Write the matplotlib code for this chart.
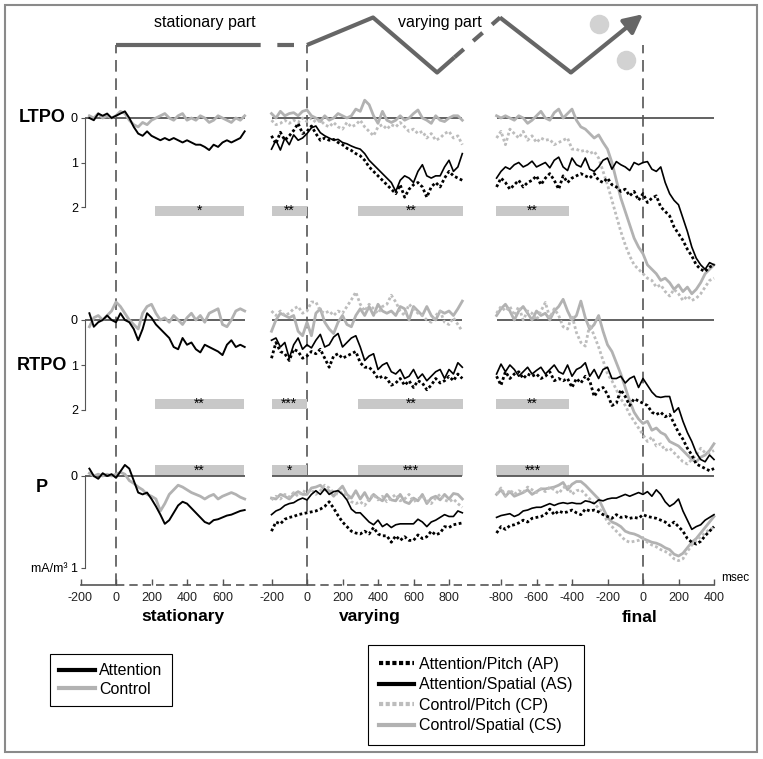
import numpy as np
import matplotlib
matplotlib.use("Agg")
import matplotlib.pyplot as plt
from matplotlib.lines import Line2D
from matplotlib.patches import Rectangle

plt.rcParams["font.family"] = ["Liberation Sans", "DejaVu Sans"]
plt.rcParams["axes.unicode_minus"] = False

# ---- time grids (msec) ----
t_stat = np.arange(-150, 726, 25)
t_vary = np.arange(-200, 876, 25)
t_final = np.arange(-825, 401, 25)

# ---- LTPO ----
ltpo_stat_att = [0.0, 0.05, -0.1, -0.05, -0.1, 0.0, -0.05, -0.1, -0.15, 0.0,
                 0.2, 0.35, 0.4, 0.3, 0.4, 0.45, 0.5, 0.45, 0.5, 0.45,
                 0.5, 0.55, 0.5, 0.55, 0.6, 0.6, 0.65, 0.72, 0.6, 0.65,
                 0.55, 0.5, 0.55, 0.5, 0.45, 0.3]
ltpo_stat_ctl = [-0.05, 0.0, -0.1, 0.0, -0.05, 0.0, -0.05, -0.15, -0.1, 0.05,
                 0.15, 0.2, 0.1, 0.15, 0.05, 0.0, -0.05, -0.1, 0.0, 0.05,
                 -0.05, -0.1, 0.05, 0.0, 0.05, -0.05, 0.0, 0.1, 0.05, -0.05,
                 0.0, 0.05, 0.1, 0.0, 0.05, -0.05]
ltpo_vary_as = [0.7, 0.5, 0.72, 0.45, 0.6, 0.38, 0.5, 0.45, 0.35, 0.22,
                0.18, 0.33, 0.4, 0.45, 0.5, 0.48, 0.55, 0.58, 0.63, 0.67,
                0.7, 0.8, 0.95, 1.05, 1.15, 1.25, 1.35, 1.45, 1.65, 1.4,
                1.3, 1.35, 1.45, 1.2, 1.05, 1.3, 1.35, 1.3, 1.3, 1.1,
                0.95, 1.2, 1.1, 0.8]
ltpo_vary_ap = [0.4, 0.58, 0.32, 0.5, 0.4, 0.28, 0.12, 0.35, 0.3, 0.18,
                0.35, 0.5, 0.45, 0.5, 0.48, 0.55, 0.6, 0.68, 0.73, 0.8,
                0.85, 0.95, 1.1, 1.2, 1.3, 1.4, 1.5, 1.6, 1.7, 1.5,
                1.78, 1.6, 1.5, 1.45, 1.55, 1.78, 1.55, 1.45, 1.55, 1.35,
                1.2, 1.3, 1.35, 1.4]
ltpo_vary_cs = [-0.1, 0.0, -0.15, -0.05, -0.1, -0.12, -0.05, -0.15, -0.18, -0.05,
                0.0, 0.08, -0.05, 0.05, 0.0, -0.1, -0.05, 0.0, -0.05, -0.2,
                -0.15, -0.4, -0.3, -0.05, 0.12, -0.15, 0.05, 0.1, 0.05, -0.05,
                0.05, 0.0, -0.1, -0.18, 0.0, 0.05, 0.12, -0.05, 0.05, 0.08,
                0.0, -0.05, -0.05, 0.05]
ltpo_vary_cp = [0.05, 0.15, 0.12, 0.05, 0.12, 0.05, 0.1, 0.0, 0.08, 0.0,
                0.1, 0.05, 0.15, 0.2, 0.1, 0.2, 0.25, 0.1, 0.2, 0.15,
                0.05, 0.2, 0.3, 0.4, 0.2, 0.15, 0.25, 0.15, 0.2, 0.1,
                0.2, 0.3, 0.25, 0.35, 0.3, 0.45, 0.35, 0.5, 0.45, 0.35,
                0.3, 0.45, 0.4, 0.6]
ltpo_final_as = [1.35, 1.2, 1.1, 1.15, 1.05, 1.0, 1.1, 1.05, 0.97, 1.1,
                 1.05, 1.0, 1.12, 0.95, 0.88, 1.1, 1.18, 0.9, 1.05, 1.1,
                 0.9, 1.15, 1.2, 1.1, 0.95, 0.9, 1.15, 0.98, 1.05, 1.1,
                 1.18, 1.0, 1.05, 1.0, 0.98, 1.15, 1.2, 1.1, 1.45, 1.7,
                 1.85, 1.95, 2.25, 2.55, 2.9, 3.15, 3.3, 3.4, 3.25, 3.3]
ltpo_final_ap = [1.55, 1.35, 1.45, 1.6, 1.5, 1.4, 1.55, 1.45, 1.4, 1.3,
                 1.5, 1.35, 1.25, 1.4, 1.6, 1.3, 1.45, 1.35, 1.3, 1.25,
                 1.3, 1.35, 1.25, 1.4, 1.45, 1.35, 1.5, 1.55, 1.65, 1.6,
                 1.75, 1.65, 1.85, 1.7, 1.9, 1.8, 1.75, 2.0, 2.1, 2.2,
                 2.45, 2.6, 2.75, 2.95, 3.1, 3.3, 3.4, 3.45, 3.35, 3.3]
ltpo_final_cs = [-0.05, 0.0, -0.05, 0.0, 0.05, -0.05, 0.0, 0.12, 0.05, -0.05,
                 -0.15, 0.0, 0.05, -0.12, -0.2, 0.0, -0.1, -0.2, 0.05, 0.2,
                 0.25, 0.35, 0.45, 0.38, 0.55, 0.7, 1.0, 1.4, 1.8, 2.1,
                 2.4, 2.7, 2.9, 3.05, 3.3, 3.4, 3.5, 3.65, 3.6, 3.7,
                 3.85, 3.75, 3.9, 3.8, 3.95, 3.85, 3.7, 3.5, 3.4, 3.3]
ltpo_final_cp = [0.45, 0.3, 0.6, 0.25, 0.35, 0.45, 0.3, 0.5, 0.4, 0.55,
                 0.45, 0.5, 0.48, 0.6, 0.55, 0.5, 0.45, 0.7, 0.7, 0.75,
                 0.72, 0.8, 0.75, 0.9, 1.2, 1.5, 1.85, 2.2, 2.55, 2.85,
                 3.1, 3.3, 3.4, 3.5, 3.6, 3.65, 3.8, 3.75, 3.9, 4.0,
                 3.85, 3.95, 4.1, 4.0, 4.1, 4.05, 3.95, 3.8, 3.65, 3.6]

# ---- RTPO ----
rtpo_stat_att = [-0.15, 0.15, 0.05, 0.0, -0.1, 0.0, 0.05, -0.15, 0.0, 0.05,
                 0.2, 0.45, 0.2, -0.15, -0.05, 0.1, 0.2, 0.3, 0.4, 0.6,
                 0.65, 0.4, 0.55, 0.5, 0.65, 0.72, 0.55, 0.6, 0.65, 0.7,
                 0.78, 0.55, 0.45, 0.6, 0.55, 0.6]
rtpo_stat_ctl = [0.15, -0.05, -0.1, 0.0, -0.1, -0.2, -0.4, -0.3, -0.15, 0.0,
                 0.1, 0.2, -0.15, -0.3, -0.35, -0.15, 0.0, -0.05, 0.05, -0.1,
                 0.0, 0.1, -0.05, -0.15, 0.0, -0.1, 0.05, -0.15, -0.2, -0.25,
                 0.1, 0.15, 0.0, -0.2, -0.25, -0.2]
rtpo_vary_as = [0.45, 0.4, 0.6, 0.5, 0.85, 0.55, 0.4, 0.65, 0.55, 0.62,
                0.45, 0.32, 0.6, 0.55, 0.38, 0.3, 0.6, 0.5, 0.4, 0.35,
                0.6, 0.9, 0.8, 0.75, 1.1, 1.0, 0.95, 1.15, 1.2, 1.1,
                1.3, 1.25, 1.1, 1.3, 1.2, 1.35, 1.25, 1.15, 1.1, 1.3,
                1.1, 1.2, 0.95, 1.05]
rtpo_vary_ap = [0.85, 0.5, 0.7, 0.75, 0.9, 0.65, 0.7, 0.85, 0.8, 0.7,
                0.75, 0.65, 0.85, 1.05, 0.8, 0.75, 0.85, 0.8, 0.75, 0.7,
                0.95, 1.05, 1.05, 1.15, 1.3, 1.25, 1.3, 1.45, 1.4, 1.3,
                1.45, 1.35, 1.5, 1.35, 1.4, 1.55, 1.45, 1.3, 1.4, 1.35,
                1.25, 1.35, 1.2, 1.3]
rtpo_vary_cs = [0.25, 0.0, -0.15, -0.1, -0.05, -0.1, 0.25, 0.35, 0.05, 0.35,
                -0.15, -0.25, 0.05, 0.2, 0.3, 0.05, -0.1, 0.1, 0.15, -0.1,
                -0.25, -0.1, -0.3, -0.1, -0.35, -0.2, -0.15, -0.2, -0.1, -0.3,
                -0.25, 0.0, -0.3, -0.2, -0.1, -0.3, -0.1, 0.0, -0.2, -0.15,
                -0.2, -0.1, -0.25, -0.42]
rtpo_vary_cp = [-0.2, -0.1, -0.2, -0.1, -0.15, -0.25, -0.3, -0.15, -0.2, -0.4,
                -0.4, -0.2, -0.15, -0.2, -0.1, -0.2, -0.15, -0.3, -0.45, -0.62,
                -0.35, -0.2, -0.35, -0.25, -0.15, -0.3, -0.35, -0.55, -0.4, -0.2,
                -0.1, -0.35, -0.25, -0.15, -0.1, 0.0, 0.05, -0.1, -0.2, 0.05,
                0.1, -0.05, 0.1, 0.25]
rtpo_final_as = [1.2, 0.98, 1.15, 1.0, 1.1, 1.25, 1.15, 1.05, 1.2, 1.12,
                 1.05, 1.2, 1.1, 1.0, 1.15, 1.2, 1.0, 1.25, 1.1, 1.05,
                 0.95, 1.25, 1.1, 1.3, 1.1, 1.05, 1.3, 1.3, 1.25, 1.4,
                 1.3, 1.25, 1.5, 1.3, 1.45, 1.6, 1.7, 1.72, 1.7, 1.7,
                 2.05, 1.95, 2.25, 2.5, 2.7, 2.95, 3.1, 3.15, 3.0, 3.1]
rtpo_final_ap = [1.25, 1.45, 1.15, 1.3, 1.2, 1.15, 1.3, 1.2, 1.25, 1.2,
                 1.3, 1.25, 1.15, 1.35, 1.3, 1.35, 1.3, 1.5, 1.3, 1.4,
                 1.25, 1.35, 1.7, 1.55, 1.5, 1.65, 1.9, 1.85, 1.55, 1.7,
                 1.9, 1.75, 1.8, 1.85, 1.9, 2.05, 2.1, 2.05, 2.15, 2.1,
                 2.3, 2.5, 2.65, 2.85, 3.0, 3.2, 3.25, 3.3, 3.35, 3.3]
rtpo_final_cs = [-0.1, -0.25, -0.35, -0.2, 0.0, -0.2, -0.3, -0.15, 0.0, -0.2,
                 -0.1, -0.15, 0.0, -0.2, -0.3, -0.46, -0.2, 0.0, -0.1, -0.42,
                 -0.05, 0.21, 0.1, -0.1, 0.25, 0.55, 0.7, 0.95, 1.2, 1.5,
                 1.8, 2.05, 2.2, 2.3, 2.25, 2.45, 2.4, 2.5, 2.55, 2.7,
                 2.75, 2.8, 2.9, 3.0, 3.1, 3.15, 3.05, 3.0, 2.9, 2.75]
rtpo_final_cp = [-0.15, -0.3, -0.2, -0.3, -0.1, -0.3, 0.0, -0.2, -0.15, 0.0,
                 -0.2, -0.39, -0.05, -0.25, -0.1, 0.15, 0.2, -0.1, 0.28, 0.5,
                 0.58, 0.1, 0.35, 0.6, 0.9, 1.2, 1.35, 1.55, 1.75, 1.9,
                 2.1, 2.25, 2.4, 2.55, 2.7, 2.6, 2.8, 2.75, 2.9, 2.85,
                 2.95, 3.05, 3.15, 3.2, 3.1, 3.0, 2.85, 2.95, 2.95, 2.9]

# ---- P ----
p_stat_att = [-0.08, 0.0, 0.03, -0.03, 0.0, -0.02, 0.02, -0.05, -0.12, -0.08,
              0.05, 0.18, 0.2, 0.18, 0.25, 0.33, 0.42, 0.52, 0.48, 0.4,
              0.32, 0.28, 0.3, 0.35, 0.4, 0.45, 0.5, 0.52, 0.48, 0.47,
              0.45, 0.43, 0.42, 0.4, 0.38, 0.37]
p_stat_ctl = [-0.03, 0.0, -0.02, 0.0, -0.02, 0.0, -0.02, -0.04, -0.02, 0.05,
              0.08, 0.12, 0.15, 0.2, 0.22, 0.25, 0.38, 0.3, 0.2, 0.15,
              0.1, 0.12, 0.15, 0.18, 0.2, 0.22, 0.25, 0.22, 0.2, 0.25,
              0.22, 0.2, 0.18, 0.2, 0.23, 0.25]
p_vary_as = [0.42, 0.38, 0.36, 0.32, 0.3, 0.29, 0.26, 0.24, 0.26, 0.2,
             0.16, 0.2, 0.14, 0.2, 0.17, 0.16, 0.2, 0.26, 0.36, 0.4,
             0.4, 0.45, 0.5, 0.53, 0.48, 0.55, 0.52, 0.56, 0.53, 0.52,
             0.52, 0.52, 0.52, 0.47, 0.5, 0.55, 0.5, 0.48, 0.45, 0.42,
             0.44, 0.44, 0.38, 0.4]
p_vary_ap = [0.6, 0.5, 0.52, 0.47, 0.45, 0.44, 0.42, 0.41, 0.4, 0.39,
             0.38, 0.36, 0.33, 0.28, 0.35, 0.43, 0.5, 0.55, 0.6, 0.62,
             0.63, 0.6, 0.63, 0.56, 0.63, 0.65, 0.65, 0.72, 0.65, 0.7,
             0.66, 0.7, 0.7, 0.64, 0.68, 0.66, 0.6, 0.64, 0.62, 0.55,
             0.56, 0.53, 0.52, 0.51]
p_vary_cs = [0.24, 0.25, 0.2, 0.22, 0.25, 0.2, 0.17, 0.2, 0.2, 0.13,
             0.12, 0.1, 0.15, 0.16, 0.22, 0.16, 0.11, 0.2, 0.24, 0.16,
             0.25, 0.18, 0.27, 0.2, 0.24, 0.27, 0.2, 0.26, 0.27, 0.2,
             0.28, 0.3, 0.24, 0.27, 0.2, 0.3, 0.24, 0.22, 0.26, 0.2,
             0.25, 0.19, 0.2, 0.25]
p_vary_cp = [0.26, 0.22, 0.25, 0.2, 0.23, 0.18, 0.22, 0.16, 0.18, 0.15,
             0.2, 0.16, 0.1, 0.13, 0.18, 0.2, 0.17, 0.22, 0.28, 0.3,
             0.28, 0.32, 0.25, 0.2, 0.26, 0.22, 0.28, 0.24, 0.2, 0.27,
             0.25, 0.2, 0.28, 0.25, 0.22, 0.27, 0.3, 0.24, 0.2, 0.26,
             0.28, 0.25, 0.3, 0.34]
p_final_as = [0.45, 0.43, 0.42, 0.41, 0.44, 0.42, 0.38, 0.37, 0.35, 0.34,
              0.34, 0.32, 0.3, 0.32, 0.3, 0.29, 0.3, 0.29, 0.3, 0.3,
              0.27, 0.28, 0.3, 0.26, 0.27, 0.25, 0.24, 0.24, 0.22, 0.2,
              0.22, 0.2, 0.18, 0.2, 0.17, 0.22, 0.15, 0.2, 0.28, 0.33,
              0.3, 0.25, 0.38, 0.48, 0.58, 0.55, 0.53, 0.48, 0.45, 0.42]
p_final_ap = [0.62, 0.55, 0.58, 0.54, 0.53, 0.51, 0.48, 0.5, 0.46, 0.45,
              0.44, 0.42, 0.36, 0.42, 0.38, 0.4, 0.39, 0.37, 0.4, 0.42,
              0.36, 0.38, 0.37, 0.39, 0.42, 0.44, 0.46, 0.42, 0.45, 0.44,
              0.46, 0.45, 0.46, 0.42, 0.44, 0.45, 0.46, 0.48, 0.5, 0.54,
              0.5, 0.55, 0.6, 0.68, 0.72, 0.74, 0.71, 0.65, 0.6, 0.55]
p_final_cs = [0.2, 0.15, 0.22, 0.17, 0.22, 0.2, 0.18, 0.15, 0.2, 0.17,
              0.14, 0.14, 0.13, 0.12, 0.1, 0.07, 0.15, 0.09, 0.06, 0.06,
              0.1, 0.15, 0.2, 0.25, 0.35, 0.45, 0.5, 0.52, 0.55, 0.6,
              0.62, 0.63, 0.65, 0.68, 0.7, 0.72, 0.73, 0.75, 0.78, 0.8,
              0.85, 0.87, 0.84, 0.78, 0.72, 0.68, 0.62, 0.56, 0.5, 0.44]
p_final_cp = [0.2, 0.13, 0.22, 0.15, 0.2, 0.16, 0.18, 0.12, 0.15, 0.18,
              0.14, 0.17, 0.12, 0.15, 0.19, 0.13, 0.1, 0.2, 0.16, 0.15,
              0.2, 0.25, 0.3, 0.35, 0.4, 0.5, 0.55, 0.6, 0.65, 0.7,
              0.72, 0.71, 0.7, 0.68, 0.72, 0.75, 0.77, 0.8, 0.82, 0.85,
              0.9, 0.92, 0.9, 0.82, 0.75, 0.7, 0.66, 0.62, 0.58, 0.56]

# ---- significance windows (msec) and stars ----
sig_windows = [[(220, 720)], [(-200, 0), (290, 880)], [(-830, -415)]]
ltpo_stars = [["*"], ["**", "**"], ["**"]]
rtpo_stars = [["**"], ["***", "**"], ["**"]]
p_stars = [["**"], ["*", "***"], ["***"]]

# ---- stimulus sketch (msec, level) ----
stim_stat_t, stim_stat_lv = [0, 720], [0, 0]
stim_vary_t, stim_vary_lv = [0, 372, 733, 830], [0, 1, -1, -0.45]
stim_final_t, stim_final_lv = [-806, -406], [1, -1]
dot_t, dot_lv = [-250, -96], [0.75, -0.55]

col_titles = ["stationary", "varying", "final"]
col_ticks = [[-200, 0, 200, 400, 600],
             [-200, 0, 200, 400, 600, 800],
             [-800, -600, -400, -200, 0, 200, 400]]

# ---------------- layout (pixels) ----------------
W, H = 763, 759
PX_MS = 0.1775
fig = plt.figure(figsize=(W / 100, H / 100), dpi=100)

cols = [dict(zero=116, xlim=(-175, 750), alim=(-225, 780), title_x=183),
        dict(zero=307, xlim=(-200, 900), alim=(-225, 920), title_x=370),
        dict(zero=643, xlim=(-850, 410), alim=(-875, 420), title_x=640)]
rows = [dict(name="LTPO", zero=118, k=44.5, ylim=(-0.6, 2.3), ticks=[0, 1, 2],
             labels=["0", "1", "2"], bar_y=2.09, bar_h=0.22, stars=ltpo_stars, lab_y=118),
        dict(name="RTPO", zero=320, k=45.0, ylim=(-0.8, 2.1), ticks=[0, 1, 2],
             labels=["0", "1", "2"], bar_y=1.87, bar_h=0.22, stars=rtpo_stars, lab_y=366),
        dict(name="P", zero=476, k=92.0, ylim=(-0.25, 1.05), ticks=[0, 1],
             labels=["0", "mA/m³ 1"], bar_y=-0.06, bar_h=0.12, stars=p_stars, lab_y=488)]

times = [t_stat, t_vary, t_final]
traces = {
    "LTPO": [[("ctl", ltpo_stat_ctl), ("att", ltpo_stat_att)],
             [("cs", ltpo_vary_cs), ("cp", ltpo_vary_cp), ("ap", ltpo_vary_ap), ("as", ltpo_vary_as)],
             [("cs", ltpo_final_cs), ("cp", ltpo_final_cp), ("ap", ltpo_final_ap), ("as", ltpo_final_as)]],
    "RTPO": [[("ctl", rtpo_stat_ctl), ("att", rtpo_stat_att)],
             [("cs", rtpo_vary_cs), ("cp", rtpo_vary_cp), ("ap", rtpo_vary_ap), ("as", rtpo_vary_as)],
             [("cs", rtpo_final_cs), ("cp", rtpo_final_cp), ("ap", rtpo_final_ap), ("as", rtpo_final_as)]],
    "P": [[("ctl", p_stat_ctl), ("att", p_stat_att)],
          [("cs", p_vary_cs), ("cp", p_vary_cp), ("ap", p_vary_ap), ("as", p_vary_as)],
          [("cs", p_final_cs), ("cp", p_final_cp), ("ap", p_final_ap), ("as", p_final_as)]],
}

GRAY = "#b2b2b2"
DOT = (0, (1, 0.9))
styles = {
    "att": dict(color="black", lw=1.4, ls="-", zorder=4),
    "ctl": dict(color=GRAY, lw=2.0, ls="-", zorder=3),
    "ap": dict(color="black", lw=2.0, ls=DOT, zorder=4),
    "as": dict(color="black", lw=1.2, ls="-", zorder=4),
    "cp": dict(color="#bdbdbd", lw=2.0, ls=DOT, zorder=3),
    "cs": dict(color=GRAY, lw=2.0, ls="-", zorder=3),
}
AX_COL = "#555555"


def px_axes(x0, x1, y0, y1):
    ax = fig.add_axes([x0 / W, 1 - y1 / H, (x1 - x0) / W, (y1 - y0) / H])
    ax.patch.set_visible(False)
    for s in ax.spines.values():
        s.set_visible(False)
    ax.set_xticks([])
    ax.set_yticks([])
    return ax


def col_px(c, t):
    return c["zero"] + t * PX_MS


# 1. column axes: dashed onset line + time axis
for ci, c in enumerate(cols):
    cax = px_axes(col_px(c, c["alim"][0]), col_px(c, c["alim"][1]), 45, 585)
    cax.set_xlim(c["alim"])
    cax.set_ylim(0, 1)
    cax.axvline(0, color=AX_COL, lw=1.2, ls=(0, (7, 4)))
    cax.set_xticks(col_ticks[ci])
    cax.tick_params(axis="x", direction="in", length=4, width=1, color=AX_COL,
                    labelsize=9, pad=5, labelcolor="#222222")
    t1 = times[ci][-1]
    if ci < 2:
        cax.plot([-200, 0], [0, 0], color=AX_COL, lw=1.2, clip_on=False)
        cax.plot([0, t1 + 160], [0, 0], color=AX_COL, lw=1.2, ls=(0, (5, 3)), clip_on=False)
    else:
        cax.plot([-850, -400], [0, 0], color=AX_COL, lw=1.2, ls=(0, (5, 3)), clip_on=False)
        cax.plot([-400, 400], [0, 0], color=AX_COL, lw=1.2, clip_on=False)
    fig.text(c["title_x"] / W, 1 - 617 / H, col_titles[ci], ha="center", va="center",
             fontsize=12.5, fontweight="bold")

fig.text(721 / W, 1 - 578 / H, "msec", ha="left", va="center", fontsize=8.5)

# 2. data panels
for r in rows:
    for ci, c in enumerate(cols):
        y0 = r["zero"] + r["ylim"][0] * r["k"]
        y1 = r["zero"] + r["ylim"][1] * r["k"]
        ax = px_axes(col_px(c, c["xlim"][0]), col_px(c, c["xlim"][1]), y0, y1)
        ax.set_xlim(c["xlim"])
        ax.set_ylim(r["ylim"][1], r["ylim"][0])
        t = times[ci]
        x_start = c["xlim"][0] if ci == 0 else t[0]
        ax.hlines(0, x_start, t[-1], color=AX_COL, lw=1.3, zorder=2)
        for (s, e), st in zip(sig_windows[ci], r["stars"][ci]):
            ax.barh(r["bar_y"], e - s, left=s, height=r["bar_h"], color="#c8c8c8", zorder=1)
            ax.text((s + e) / 2, r["bar_y"], st, ha="center", va="center",
                    fontsize=10, zorder=2)
        for key, vals in traces[r["name"]][ci]:
            ax.plot(t[:len(vals)], vals, clip_on=False, **styles[key])
        if ci == 0:
            ax.spines["left"].set_visible(True)
            ax.spines["left"].set_color(AX_COL)
            ax.spines["left"].set_bounds(r["ticks"][0], r["ticks"][-1])
            ax.set_yticks(r["ticks"])
            ax.set_yticklabels(r["labels"])
            ax.tick_params(axis="y", direction="out", length=3, color=AX_COL,
                           labelsize=9, pad=2)
    fig.text(42 / W, 1 - r["lab_y"] / H, r["name"], ha="center", va="center",
             fontsize=13, fontweight="bold")

# 3. stimulus sketch on top
STIM = "#666666"
stim = [(stim_stat_t, stim_stat_lv), (stim_vary_t, stim_vary_lv), (stim_final_t, stim_final_lv)]
for ci, c in enumerate(cols):
    sax = px_axes(col_px(c, c["xlim"][0]), col_px(c, c["xlim"][1]), 5, 85)
    sax.set_xlim(c["xlim"])
    sax.set_ylim(-1.4545, 1.4545)
    st_t, st_lv = stim[ci]
    sax.plot(st_t, st_lv, color=STIM, lw=3, clip_on=False, solid_capstyle="butt")
    if ci == 0:
        sax.plot([st_t[-1], 1040], [0, 0], color=STIM, lw=3, ls=(0, (4, 4)), clip_on=False)
    elif ci == 1:
        sax.plot([st_t[-1], 1088], [st_lv[-1], 1], color=STIM, lw=3, ls=(0, (3, 3)), clip_on=False)
    else:
        sax.scatter(dot_t, dot_lv, s=170, color="#d2d2d2", zorder=1, clip_on=False)
        sax.annotate("", xy=(0, 1.12), xytext=(st_t[-1], st_lv[-1]),
                     arrowprops=dict(arrowstyle="-|>", color=STIM, lw=3, mutation_scale=28,
                                     shrinkA=0, shrinkB=0))

fig.text(205 / W, 1 - 22 / H, "stationary part", ha="center", va="center", fontsize=11.5)
fig.text(440 / W, 1 - 22 / H, "varying part", ha="center", va="center", fontsize=11.5)

# 4. legends
leg1 = fig.legend([Line2D([], [], color="black", lw=3), Line2D([], [], color=GRAY, lw=3)],
                  ["Attention", "Control"], loc="center",
                  bbox_to_anchor=(111 / W, 1 - 680 / H), fancybox=False, edgecolor="black",
                  fontsize=11.5, handlelength=2.2, handletextpad=0.3, labelspacing=0.2,
                  borderpad=0.6, framealpha=1)
leg1.get_frame().set_linewidth(0.8)
leg2 = fig.legend([Line2D([], [], color="black", lw=3, ls=(0, (1, 0.6))),
                   Line2D([], [], color="black", lw=3),
                   Line2D([], [], color="#bdbdbd", lw=3, ls=(0, (1, 0.6))),
                   Line2D([], [], color=GRAY, lw=3)],
                  ["Attention/Pitch (AP)", "Attention/Spatial (AS)",
                   "Control/Pitch (CP)", "Control/Spatial (CS)"], loc="center",
                  bbox_to_anchor=(476 / W, 1 - 695 / H), fancybox=False, edgecolor="black",
                  fontsize=11.5, handlelength=2.2, handletextpad=0.3, labelspacing=0.35,
                  borderpad=0.7, framealpha=1)
leg2.get_frame().set_linewidth(0.8)

# 5. outer frame
fig.add_artist(Rectangle((5 / W, 1 - 752 / H), 752 / W, 747 / H, transform=fig.transFigure,
                         fill=False, edgecolor="#8a8a8a", lw=1.5))

fig.savefig("out.png", dpi=100)
